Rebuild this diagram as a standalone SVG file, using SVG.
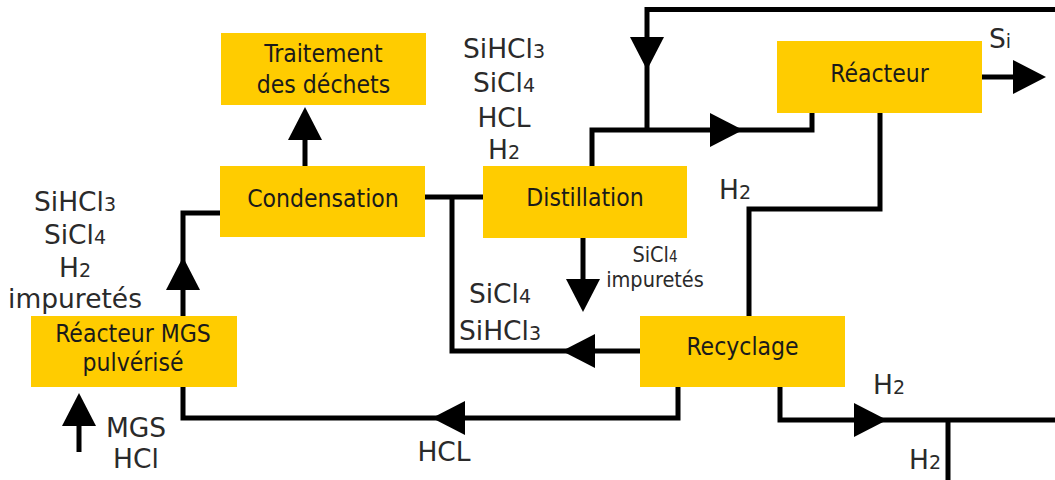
<svg xmlns="http://www.w3.org/2000/svg" xmlns:xlink="http://www.w3.org/1999/xlink" width="1055" height="480" viewBox="0 0 1055 480">
  <style>
    .box { fill: #FFCC00; }
    .bt { font-family: "DejaVu Sans Condensed", "DejaVu Sans", sans-serif; font-size: 24.5px; fill: #1a1a1a; text-anchor: middle; }
    .lb { font-family: "DejaVu Sans", "Liberation Sans", sans-serif; font-size: 26.5px; fill: #2a2a2a; text-anchor: middle; }
    .sm { font-family: "DejaVu Sans Condensed", "DejaVu Sans", sans-serif; font-size: 21.5px; fill: #2a2a2a; text-anchor: middle; }
    .sub { font-size: 19px; }
    .subs { font-size: 15px; }
    .ln { fill: none; stroke: #000; stroke-width: 5; stroke-linejoin: miter; stroke-linecap: butt; }
  </style>
  <defs>
    <path id="ah" d="M0,0 L-33,-17 L-33,17 Z" fill="#000"/>
  </defs>
  <rect width="1055" height="480" fill="#fff"/>

  <g id="connectors">
    <path class="ln" d="M183,316 V213 H220"/>
    <path class="ln" d="M183,387 V418 H678 V387"/>
    <path class="ln" d="M79,452 V410"/>
    <path class="ln" d="M305,166 V125"/>
    <path class="ln" d="M425,197 H483"/>
    <path class="ln" d="M452,197 V351 H640"/>
    <path class="ln" d="M583,238 V290"/>
    <path class="ln" d="M592,166 V130 H812 V113"/>
    <path class="ln" d="M647,130 V9.5 H1055"/>
    <path class="ln" d="M982,77 H1025"/>
    <path class="ln" d="M880,113 V209 H749 V316"/>
    <path class="ln" d="M780,387 V420 H1055"/>
    <path class="ln" d="M948,420 V480"/>
    <use xlink:href="#ah" transform="translate(183,257) rotate(-90)"/>
    <use xlink:href="#ah" transform="translate(432,418) rotate(180)"/>
    <use xlink:href="#ah" transform="translate(79,393) rotate(-90)"/>
    <use xlink:href="#ah" transform="translate(305,107) rotate(-90)"/>
    <use xlink:href="#ah" transform="translate(562,351) rotate(180)"/>
    <use xlink:href="#ah" transform="translate(583,312) rotate(90)"/>
    <use xlink:href="#ah" transform="translate(647,70) rotate(90)"/>
    <use xlink:href="#ah" transform="translate(743,130)"/>
    <use xlink:href="#ah" transform="translate(1046,77)"/>
    <use xlink:href="#ah" transform="translate(887,420)"/>
  </g>

  <g id="traitement">
    <rect class="box" x="221" y="33" width="205" height="72"/>
    <text class="bt" x="323.5" y="62">Traitement<tspan x="323.5" dy="31">des déchets</tspan></text>
  </g>
  <g id="condensation">
    <rect class="box" x="220" y="166" width="205" height="71"/>
    <text class="bt" x="323" y="207">Condensation</text>
  </g>
  <g id="distillation">
    <rect class="box" x="483" y="166" width="204" height="72"/>
    <text class="bt" x="585" y="206">Distillation</text>
  </g>
  <g id="reacteur">
    <rect class="box" x="777" y="41" width="205" height="72"/>
    <text class="bt" x="879.5" y="82">Réacteur</text>
  </g>
  <g id="recyclage">
    <rect class="box" x="640" y="316" width="205" height="71"/>
    <text class="bt" x="742.5" y="355">Recyclage</text>
  </g>
  <g id="reacteur-mgs">
    <rect class="box" x="31" y="316" width="206" height="71"/>
    <text class="bt" x="133" y="342">Réacteur MGS<tspan x="133" dy="29">pulvérisé</tspan></text>
  </g>

  <g id="labels">
    <text class="lb" x="75" y="211">SiHCl<tspan class="sub">3</tspan></text>
    <text class="lb" x="75" y="244">SiCl<tspan class="sub">4</tspan></text>
    <text class="lb" x="75" y="277">H<tspan class="sub">2</tspan></text>
    <text class="lb" x="75" y="308">impuretés</text>

    <text class="lb" x="504" y="58">SiHCl<tspan class="sub">3</tspan></text>
    <text class="lb" x="504" y="92">SiCl<tspan class="sub">4</tspan></text>
    <text class="lb" x="504" y="127">HCL</text>
    <text class="lb" x="504" y="159">H<tspan class="sub">2</tspan></text>

    <text class="sm" x="655" y="262">SiCl<tspan class="subs">4</tspan></text>
    <text class="sm" x="655" y="287">impuretés</text>

    <text class="lb" x="500" y="303">SiCl<tspan class="sub">4</tspan></text>
    <text class="lb" x="500" y="340">SiHCl<tspan class="sub">3</tspan></text>

    <text class="lb" x="735" y="199">H<tspan class="sub">2</tspan></text>
    <text class="lb" x="1000" y="48">S<tspan class="sub">i</tspan></text>
    <text class="lb" x="444" y="461">HCL</text>
    <text class="lb" x="136" y="437">MGS</text>
    <text class="lb" x="136" y="468">HCl</text>
    <text class="lb" x="889" y="394">H<tspan class="sub">2</tspan></text>
    <text class="lb" x="925" y="469">H<tspan class="sub">2</tspan></text>
  </g>
</svg>
